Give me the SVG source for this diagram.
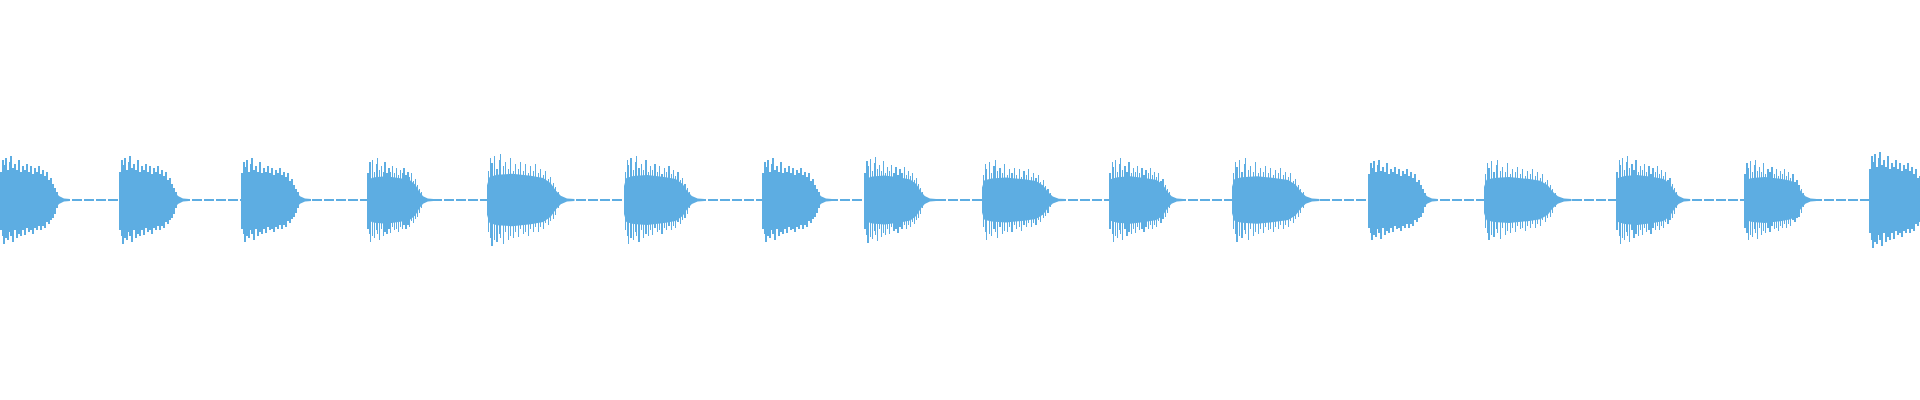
<svg xmlns="http://www.w3.org/2000/svg" width="1920" height="400" viewBox="0 0 1920 400">
<style>.b{fill:#5DADE2}.s{fill:none;stroke:#5DADE2;stroke-width:1.3;vector-effect:non-scaling-stroke;shape-rendering:crispEdges}</style>
<defs>
<g id="blob">
<path class="b" d="M0,-14 L2,-22 L8,-24 L20,-25 L35,-23 L45,-21 L51,-16 L55,-9 L59,-4 L64,-1.5 L70,-1 L70,1 L64,1.5 L59,4 L55,9 L51,16 L45,21 L35,23 L20,25 L8,24 L2,22 L0,14 Z"/>
<path class="s" d="M1,-28V30M3,-40V36M4,-35V44M6,-42V38M8,-30V40M10,-38V32M11,-44V36M13,-32V42M15,-36V30M17,-30V38M19,-40V34M21,-28V36M23,-34V30M25,-30V35M27,-36V28M29,-28V32M31,-34V30M33,-26V34M35,-32V28M37,-28V30M39,-34V26M41,-26V30M43,-30V26M45,-24V28M47,-28V22M49,-20V24M51,-22V20M53,-16V18M55,-12V14M57,-8V8"/>
</g>
</defs>
<rect width="1920" height="400" fill="#fff"/>
<line class="s" x1="0" y1="200" x2="1920" y2="200" stroke-dasharray="10 2"/>
<g id="waveform">
<use href="#blob" transform="translate(0,200) scale(1,1)"/>
<use href="#blob" transform="translate(119,200) scale(1.0,1)"/>
<use href="#blob" transform="translate(241,200) scale(1.0,0.95)"/>
<use href="#blob" transform="translate(367,200) scale(0.95,0.95)"/>
<use href="#blob" transform="translate(487,200) scale(1.25,1.05)"/>
<use href="#blob" transform="translate(624,200) scale(1.15,1)"/>
<use href="#blob" transform="translate(762,200) scale(1.0,0.95)"/>
<use href="#blob" transform="translate(864,200) scale(1.03,0.98)"/>
<use href="#blob" transform="translate(982,200) scale(1.2,0.9)"/>
<use href="#blob" transform="translate(1109,200) scale(1.06,0.95)"/>
<use href="#blob" transform="translate(1232,200) scale(1.25,0.95)"/>
<use href="#blob" transform="translate(1368,200) scale(1.0,0.92)"/>
<use href="#blob" transform="translate(1484,200) scale(1.25,0.92)"/>
<use href="#blob" transform="translate(1616,200) scale(1.06,1)"/>
<use href="#blob" transform="translate(1744,200) scale(1.04,0.92)"/>
<use href="#blob" transform="translate(1869,200) scale(1.0,1.1)"/>
</g>
</svg>
